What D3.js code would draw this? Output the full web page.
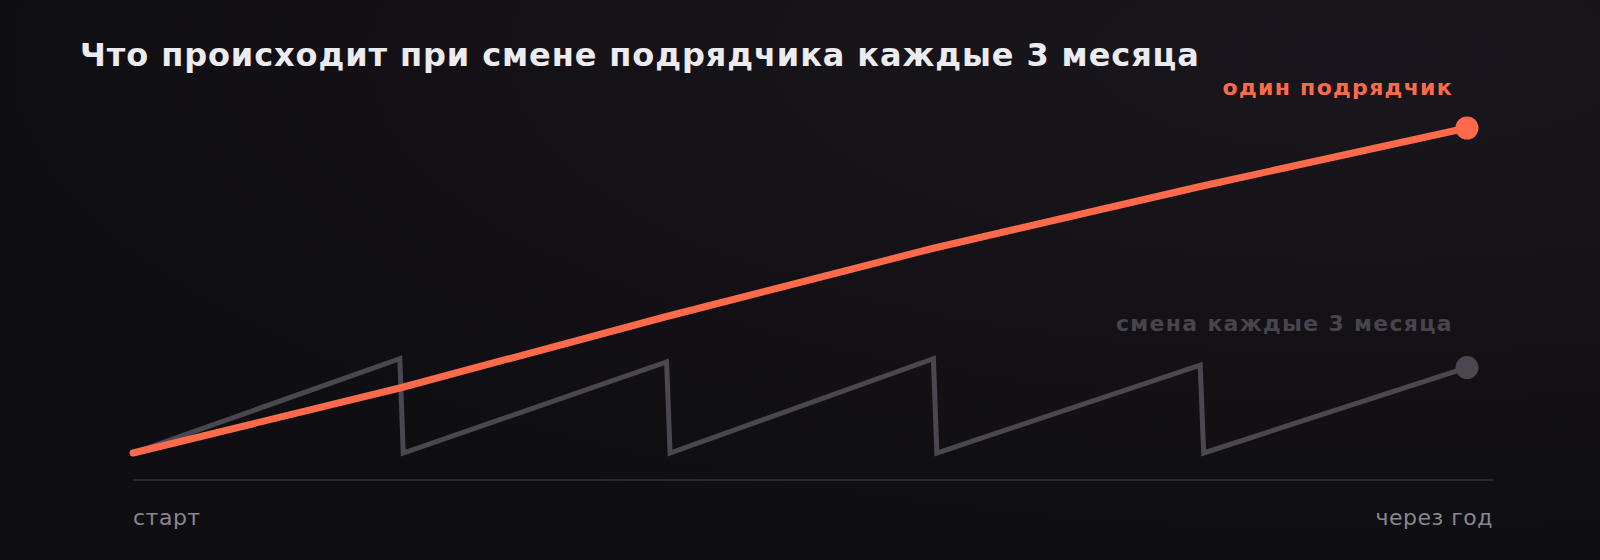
<!DOCTYPE html>
<html>
<head>
<meta charset="utf-8">
<script src="https://cdn.jsdelivr.net/npm/d3@7"></script>
<style>
  html, body { margin: 0; padding: 0; background: #111015; }
  svg { display: block; }
</style>
</head>
<body>
<div id="chart"></div>
<script>
// Contractor change vs single contractor, one year
const steps = [0, 1, 2, 3, 4, 5];
const singleValues = [0, 20, 42, 63, 82, 100];

const switchSteps = [0, 1, 1.013, 2, 2.013, 3, 3.013, 4, 4.013, 5];
const switchValues = [0, 29, 0, 28, 0, 29, 0, 27, 0, 26.3];

const axisLabels = ["старт", "через год"];
const seriesNames = ["один подрядчик", "смена каждые 3 месяца"];
const title = "Что происходит при смене подрядчика каждые 3 месяца";

const W = 1600, H = 560;
const margin = { top: 128, right: 107, bottom: 80, left: 133 };
const width = W - margin.left - margin.right;
const plotH = 325;
const axisY = 352;

const orange = "#ff6a4a";
const grey = "#4a4751";

const svg = d3.select("#chart")
    .append("svg")
    .attr("width", W)
    .attr("height", H);

// background with a faint glow in the upper right
const defs = svg.append("defs");
const bg = defs.append("radialGradient")
    .attr("id", "bg")
    .attr("cx", "85%").attr("cy", "10%").attr("r", "90%");
bg.append("stop").attr("offset", "0%").attr("stop-color", "#1a161d");
bg.append("stop").attr("offset", "100%").attr("stop-color", "#0f0e12");

svg.append("rect")
    .attr("width", W)
    .attr("height", H)
    .attr("fill", "url(#bg)");

svg.append("text")
    .attr("x", 80)
    .attr("y", 66)
    .attr("fill", "#ecebef")
    .style("font-family", "DejaVu Sans")
    .style("font-weight", "bold")
    .style("font-size", "32px")
    .style("letter-spacing", "0.9px")
    .text(title);

const g = svg.append("g")
    .attr("transform", `translate(${margin.left},${margin.top})`);

const x = d3.scaleLinear()
    .domain([0, 5])
    .range([0, width - 26]);

const y = d3.scaleLinear()
    .domain([0, 100])
    .range([plotH, 0]);

// baseline axis
g.append("line")
    .attr("x1", 0)
    .attr("x2", width)
    .attr("y1", axisY)
    .attr("y2", axisY)
    .attr("stroke", "#2b2930")
    .attr("stroke-width", 2);

const axisText = (txt, xPos, anchor) => g.append("text")
    .attr("x", xPos)
    .attr("y", axisY + 45)
    .attr("text-anchor", anchor)
    .attr("fill", "#8a8790")
    .style("font-family", "DejaVu Sans")
    .style("font-size", "22px")
    .style("letter-spacing", "0.5px")
    .text(txt);

axisText(axisLabels[0], 0, "start");
axisText(axisLabels[1], width, "end");

const line = d3.line()
    .x(d => x(d[0]))
    .y(d => y(d[1]));

const switchData = switchSteps.map((s, i) => [s, switchValues[i]]);
const singleData = steps.map((s, i) => [s, singleValues[i]]);

g.append("path")
    .datum(switchData)
    .attr("d", line)
    .attr("fill", "none")
    .attr("stroke", grey)
    .attr("stroke-width", 5)
    .attr("stroke-linejoin", "miter")
    .attr("stroke-linecap", "round");

g.append("circle")
    .attr("cx", x(switchSteps[switchSteps.length - 1]))
    .attr("cy", y(switchValues[switchValues.length - 1]))
    .attr("r", 11.5)
    .attr("fill", grey);

g.append("path")
    .datum(singleData)
    .attr("d", line)
    .attr("fill", "none")
    .attr("stroke", orange)
    .attr("stroke-width", 7)
    .attr("stroke-linejoin", "round")
    .attr("stroke-linecap", "round");

g.append("circle")
    .attr("cx", x(steps[steps.length - 1]))
    .attr("cy", y(singleValues[singleValues.length - 1]))
    .attr("r", 11.5)
    .attr("fill", orange);

// series labels, right aligned a little left of the end dots
const seriesLabel = (txt, yPos, color) => g.append("text")
    .attr("x", x(5) - 14)
    .attr("y", yPos)
    .attr("text-anchor", "end")
    .attr("fill", color)
    .style("font-family", "DejaVu Sans")
    .style("font-weight", "bold")
    .style("font-size", "22px")
    .style("letter-spacing", "1.3px")
    .text(txt);

seriesLabel(seriesNames[0], y(100) - 33, orange);
seriesLabel(seriesNames[1], y(26.3) - 37, "#47444d");
</script>
</body>
</html>
